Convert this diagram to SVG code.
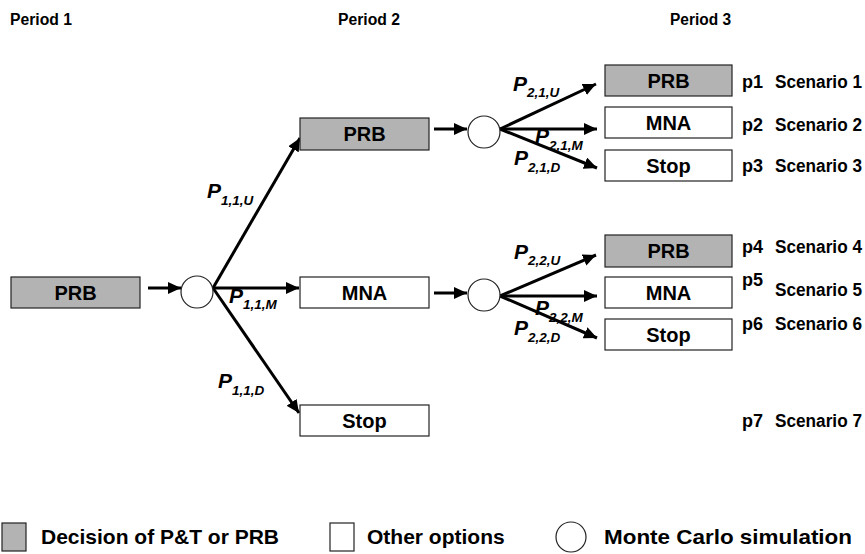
<svg xmlns="http://www.w3.org/2000/svg" width="865" height="554" viewBox="0 0 865 554">
<style>
text{font-family:"Liberation Sans",Arial,sans-serif;font-weight:bold;fill:#000}
.hd{font-size:16px}
.bx{font-size:20px;text-anchor:middle}
.sc{font-size:18px}
.lg{font-size:21px}
.p{font-size:21px;font-style:italic}
.s{font-size:13.5px;font-style:italic}
.g{fill:#b3b3b3;stroke:#222;stroke-width:1.2}
.w{fill:#fff;stroke:#222;stroke-width:1.2}
.c{fill:#fff;stroke:#222;stroke-width:1.2}
.ln{stroke:#000;stroke-width:3;fill:none;marker-end:url(#ah)}
</style>
<defs>
<marker id="ah" markerUnits="userSpaceOnUse" markerWidth="14" markerHeight="12" refX="13" refY="6" orient="auto">
<path d="M0,0 L13,6 L0,12 z" fill="#000"/>
</marker>
</defs>
<rect width="865" height="554" fill="#fff"/>
<g id="headers">
<text class="hd" x="10" y="25" textLength="62" lengthAdjust="spacingAndGlyphs">Period 1</text>
<text class="hd" x="338" y="25" textLength="62" lengthAdjust="spacingAndGlyphs">Period 2</text>
<text class="hd" x="670" y="25" textLength="61" lengthAdjust="spacingAndGlyphs">Period 3</text>
</g>
<g id="connectors">
<line class="ln" x1="148" y1="288" x2="181" y2="288"/>
<line class="ln" x1="213" y1="288" x2="300" y2="138"/>
<line class="ln" x1="213" y1="288" x2="299" y2="288"/>
<line class="ln" x1="213" y1="288" x2="299" y2="413"/>
<line class="ln" x1="434" y1="129" x2="467" y2="129"/>
<line class="ln" x1="500" y1="129" x2="596" y2="84"/>
<line class="ln" x1="500" y1="129" x2="597" y2="129"/>
<line class="ln" x1="500" y1="129" x2="597" y2="168"/>
<line class="ln" x1="434" y1="293" x2="467" y2="293"/>
<line class="ln" x1="500" y1="296" x2="596" y2="255"/>
<line class="ln" x1="500" y1="296" x2="597" y2="296"/>
<line class="ln" x1="500" y1="296" x2="597" y2="338"/>
</g>
<g id="n_prb1"><rect class="g" x="11" y="277" width="129" height="31"/><text class="bx" x="75.5" y="300">PRB</text></g>
<g id="n_mc1"><circle class="c" cx="197" cy="292" r="16"/></g>
<g id="n_prb2"><rect class="g" x="300" y="118" width="129" height="32"/><text class="bx" x="364.5" y="141">PRB</text></g>
<g id="n_mna2"><rect class="w" x="300" y="277" width="129" height="31"/><text class="bx" x="364.5" y="300">MNA</text></g>
<g id="n_stop2"><rect class="w" x="300" y="405" width="129" height="31"/><text class="bx" x="364.5" y="428">Stop</text></g>
<g id="n_mc2"><circle class="c" cx="484" cy="132" r="16"/></g>
<g id="n_mc3"><circle class="c" cx="484" cy="295" r="16"/></g>
<g id="n_prb3a"><rect class="g" x="605" y="65" width="127" height="31"/><text class="bx" x="668.5" y="88">PRB</text></g>
<g id="n_mna3a"><rect class="w" x="605" y="107" width="127" height="31"/><text class="bx" x="668.5" y="130">MNA</text></g>
<g id="n_stop3a"><rect class="w" x="605" y="150" width="127" height="31"/><text class="bx" x="668.5" y="173">Stop</text></g>
<g id="n_prb3b"><rect class="g" x="605" y="235" width="127" height="32"/><text class="bx" x="668.5" y="258">PRB</text></g>
<g id="n_mna3b"><rect class="w" x="605" y="277" width="127" height="31"/><text class="bx" x="668.5" y="300">MNA</text></g>
<g id="n_stop3b"><rect class="w" x="605" y="319" width="127" height="31"/><text class="bx" x="668.5" y="342">Stop</text></g>
<g id="probs">
<text x="207" y="198"><tspan class="p">P</tspan><tspan class="s" dy="7">1,1,U</tspan></text>
<text x="229" y="303"><tspan class="p">P</tspan><tspan class="s" dy="6">1,1,M</tspan></text>
<text x="218" y="388"><tspan class="p">P</tspan><tspan class="s" dy="7">1,1,D</tspan></text>
<text x="513" y="91"><tspan class="p">P</tspan><tspan class="s" dy="6">2,1,U</tspan></text>
<text x="535" y="143"><tspan class="p">P</tspan><tspan class="s" dy="7">2,1,M</tspan></text>
<text x="514" y="165"><tspan class="p">P</tspan><tspan class="s" dy="7">2,1,D</tspan></text>
<text x="514" y="259"><tspan class="p">P</tspan><tspan class="s" dy="6">2,2,U</tspan></text>
<text x="535" y="315"><tspan class="p">P</tspan><tspan class="s" dy="7">2,2,M</tspan></text>
<text x="514" y="335"><tspan class="p">P</tspan><tspan class="s" dy="7">2,2,D</tspan></text>
</g>
<g id="scenarios">
<text class="sc" x="742" y="88">p1</text><text class="sc" x="775" y="88" textLength="87" lengthAdjust="spacingAndGlyphs">Scenario 1</text>
<text class="sc" x="742" y="131">p2</text><text class="sc" x="775" y="131" textLength="87" lengthAdjust="spacingAndGlyphs">Scenario 2</text>
<text class="sc" x="742" y="172">p3</text><text class="sc" x="775" y="172" textLength="87" lengthAdjust="spacingAndGlyphs">Scenario 3</text>
<text class="sc" x="742" y="253">p4</text><text class="sc" x="775" y="253" textLength="87" lengthAdjust="spacingAndGlyphs">Scenario 4</text>
<text class="sc" x="742" y="286">p5</text><text class="sc" x="775" y="296" textLength="87" lengthAdjust="spacingAndGlyphs">Scenario 5</text>
<text class="sc" x="742" y="330">p6</text><text class="sc" x="775" y="330" textLength="87" lengthAdjust="spacingAndGlyphs">Scenario 6</text>
<text class="sc" x="742" y="427">p7</text><text class="sc" x="775" y="427" textLength="87" lengthAdjust="spacingAndGlyphs">Scenario 7</text>
</g>
<g id="legend">
<rect class="g" x="2" y="523" width="24" height="28"/>
<text class="lg" x="41" y="544">Decision of P&amp;T or PRB</text>
<rect class="w" x="330" y="523" width="24" height="28"/>
<text class="lg" x="367" y="544">Other options</text>
<ellipse class="c" cx="571" cy="537" rx="15" ry="15"/>
<text class="lg" x="604" y="544" textLength="248" lengthAdjust="spacingAndGlyphs">Monte Carlo simulation</text>
</g>
</svg>
